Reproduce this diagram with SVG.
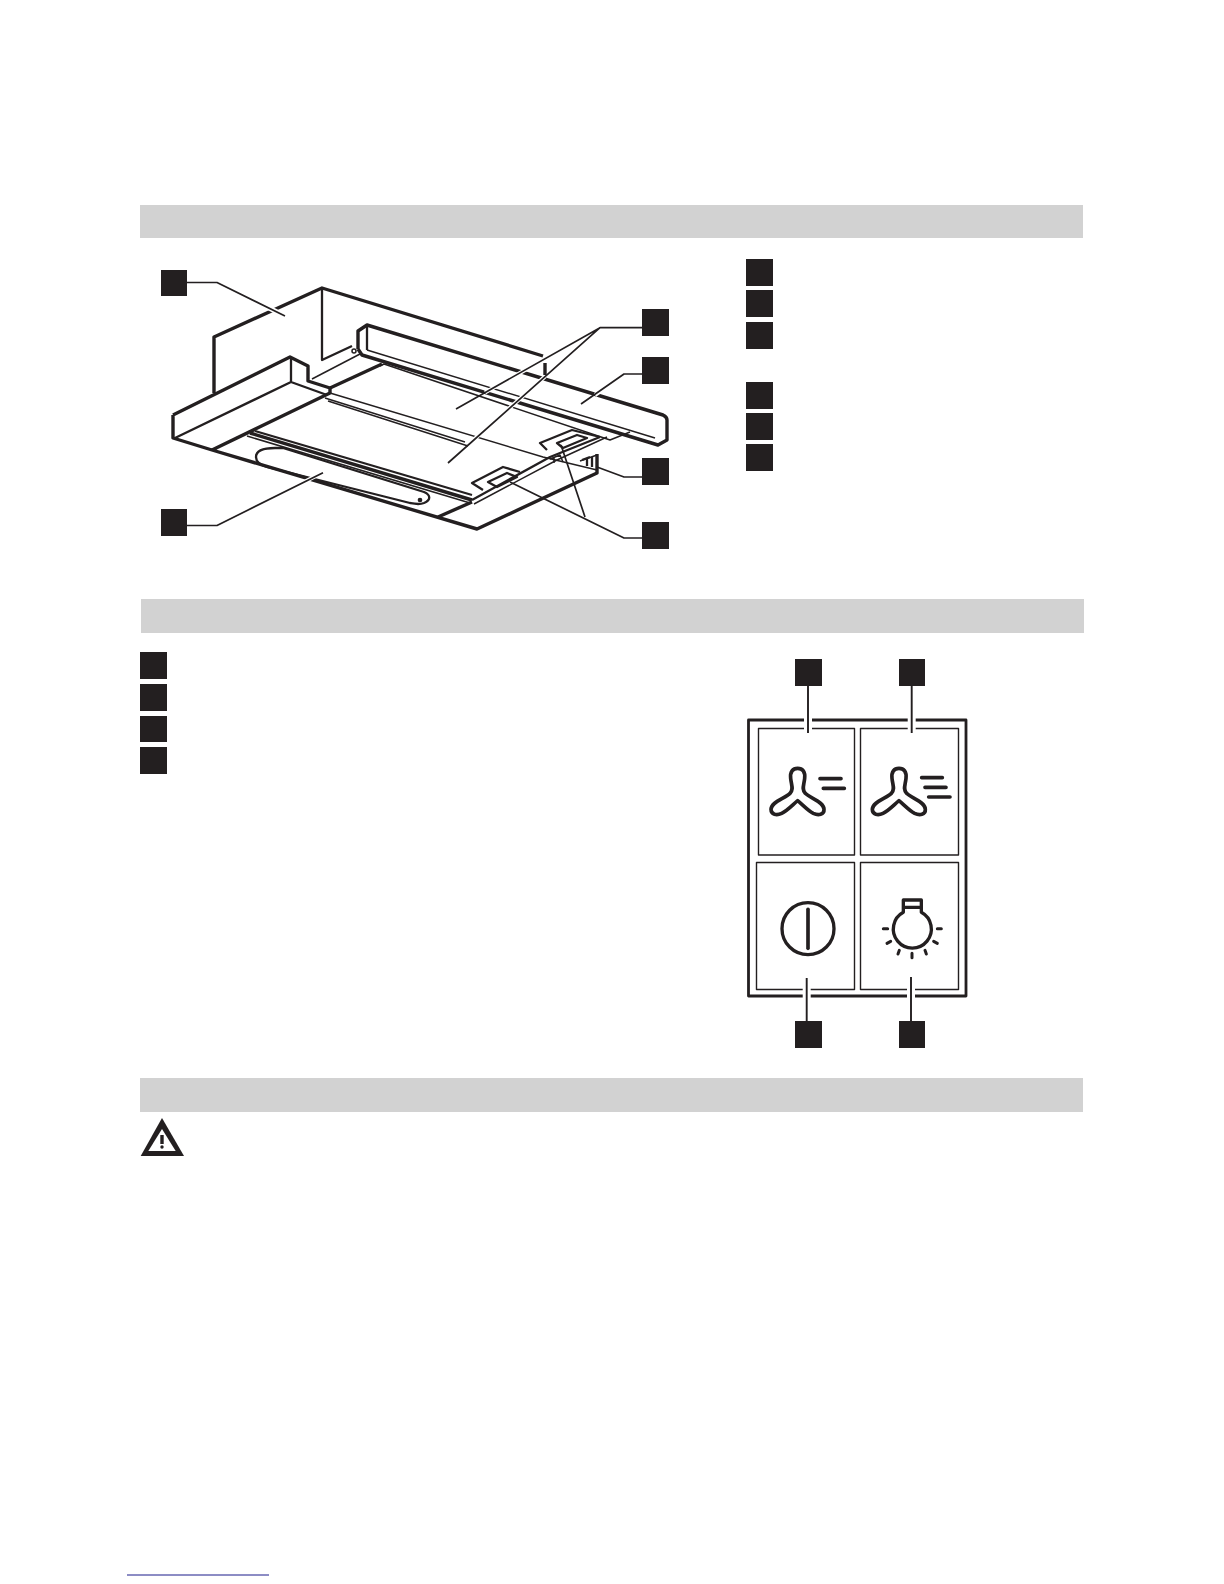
<svg xmlns="http://www.w3.org/2000/svg" xmlns:xlink="http://www.w3.org/1999/xlink" width="1224" height="1584" viewBox="0 0 1224 1584">
<style>
.bar{fill:#d2d2d2}
.sq{fill:#231f20}
path,line,circle,rect.o{fill:none;stroke:#231f20;stroke-linejoin:round}
.k{stroke-width:3.4}
.m{stroke-width:2.3}
.t{stroke-width:1.5}
.halo{stroke:#fff;stroke-width:4;stroke-linecap:butt}
.lead{stroke-width:1.7}
.panel{stroke-width:1.4}
.ic{stroke-width:11;stroke-linecap:round}
</style>
<defs>
<path id="fan" class="ic" d="M203,355C188,355 180,365 182,385C184,405 192,418 180,430C165,445 123,455 123,478C123,494 140,497 155,490C172,482 190,462 203,452C216,462 234,482 250,490C265,497 283,494 282,478C282,455 240,445 226,430C214,418 222,405 224,385C226,365 218,355 203,355Z"/>
</defs>
<rect width="1224" height="1584" fill="#fff"/>
<g id="headers">
<rect class="bar" x="140" y="205" width="943" height="33"/>
<rect class="bar" x="141" y="599" width="943" height="34"/>
<rect class="bar" x="140" y="1078" width="943" height="34"/>
</g>
<g id="hood">
<path class="k" d="M214,393V337L322,288L543,356M358,349V331L367,325L663,415Q667,417 667,420V440L658,445L362,355L358,349"/>
<path class="k" d="M545,363V375" />
<path class="m" d="M322,288V360L352,346"/>
<circle class="t" cx="354" cy="351" r="2"/>
<path class="m" d="M367,325V350"/>
<path class="t" d="M367,350L655,438"/>
<path class="t" d="M380,366L384,364L610,440L630,432"/>
<path class="t" d="M312,379L360,354"/>
<path class="k" d="M330,388L382,364"/>
<path class="k" d="M173,415L290,357L308,366V381L330,388V393L212,450M173,415V438L212,450L477,529L597,473V467"/>
<path class="m" d="M175,438L291,382L327,395M291,357V382"/>
<path class="t" d="M330,393L543,457L597,470M325,398L465,442M328,401L468,446"/>
<path class="k" d="M250,433L472,500"/>
<path class="m" d="M255,431L472,495"/>
<path class="t" d="M247,436L470,503"/>
<path class="k" d="M438,517L472,502"/>
<path class="m" d="M472,500L550,457L600,437"/>
<path class="t" d="M474,504L557,460L607,437"/>
<path class="m" d="M256,457C256,450 265,448 275,448H283L424,492C431,495 431,500 424,503C419,505 415,504 410,503L267,467C260,465 256,461 256,457Z"/>
<circle class="t" cx="420" cy="500" r="1.600" style="fill:#231f20"/>
<path class="m" d="M483,490L472,483L503,467L520,472M547,450L540,443L572,430L600,437"/>
<path class="m" d="M488,482L507,473L517,477L497,487Z M557,443L577,435L587,438L563,448Z"/>
<path class="t" d="M550,459L560,455L563,462M554,457V463M580,461L597,455"/>
<path class="m" d="M582,460L590,457M587,459V466M592,457V467"/>
<path class="k" d="M597,454V467"/>
</g>
<g id="connectors">
<path class="halo" d="M263,305L285,316" style="stroke-width:5"/>
<path class="lead" d="M187,282.500H217L285,316"/>
<path class="halo" d="M303,482.500L317,475.500"/>
<path class="lead" d="M187,525.500H217L323,472.700"/>
<path class="halo" d="M535,364.500L485,392.600M545,376.600L470,443"/>
<path class="lead" d="M642,327.700H600L456,409M600,327.700L448,463"/>
<path class="halo" d="M612,383L595,395"/>
<path class="lead" d="M642,374H624L581,404"/>
<path class="lead" d="M642,477H624L597,467"/>
<path class="lead" d="M642,538H624L510,482M585,517L561,445"/>
</g>
<g id="labels-diagram">
<rect class="sq" x="161" y="270" width="26" height="26"/>
<rect class="sq" x="161" y="509" width="26" height="27"/>
<rect class="sq" x="642" y="309" width="27" height="27"/>
<rect class="sq" x="642" y="357" width="27" height="27"/>
<rect class="sq" x="642" y="458" width="27" height="27"/>
<rect class="sq" x="642" y="522" width="27" height="27"/>
</g>
<g id="legend-1">
<rect class="sq" x="746" y="259" width="27" height="27"/>
<rect class="sq" x="746" y="290" width="27" height="27"/>
<rect class="sq" x="746" y="322" width="27" height="27"/>
<rect class="sq" x="746" y="382" width="27" height="27"/>
<rect class="sq" x="746" y="413" width="27" height="27"/>
<rect class="sq" x="746" y="444" width="27" height="27"/>
</g>
<g id="legend-2">
<rect class="sq" x="140" y="652" width="27" height="27"/>
<rect class="sq" x="140" y="684" width="27" height="27"/>
<rect class="sq" x="140" y="716" width="27" height="26"/>
<rect class="sq" x="140" y="747" width="27" height="27"/>
</g>
<g id="control-panel">
<rect class="o" x="748.500" y="720" width="217.500" height="276" style="stroke-width:2.800"/>
<rect class="o panel" x="758.500" y="728.500" width="96" height="126.500"/>
<rect class="o panel" x="860.500" y="728.500" width="98" height="126.500"/>
<rect class="o panel" x="756.500" y="862.500" width="98" height="127"/>
<rect class="o panel" x="860.500" y="862.500" width="98" height="127"/>
<g transform="translate(730 650) scale(.33333)">
<use xlink:href="#fan" href="#fan"/>
<use xlink:href="#fan" href="#fan" x="304"/>
<path class="ic" d="M270,386H333M280,415H343M575,383H637M585,412H648M596,441H660"/>
<circle cx="234" cy="836" r="78" style="stroke-width:10"/>
<path class="ic" d="M234,778V895"/>
<path style="stroke-width:10" d="M520,787V750H574V787A57,57 0 1 1 520,787ZM520,772H574"/>
<path class="ic" style="stroke-width:9" d="M460,836H473M471,880L482,874M504,912L508,901M546,923V910M589,912L585,901M622,880L611,874M634,836H622"/>
</g>
<path class="halo" d="M808,716V733M911.700,716V733M806.700,978V1000M911,977V1000" style="stroke-width:8"/>
<path style="stroke-width:1.900" d="M808,686V733M911.700,686V733M806.700,978V1021M911,977V1021"/>
<rect class="sq" x="795" y="659" width="27" height="27"/>
<rect class="sq" x="899" y="659" width="26" height="27"/>
<rect class="sq" x="795" y="1021" width="27" height="27"/>
<rect class="sq" x="899" y="1021" width="26" height="27"/>
</g>
<g id="warning">
<path d="M162,1118L140.700,1156H184Z" style="fill:#231f20;stroke:none"/>
<path d="M162,1129L148.300,1151H175.700Z" style="fill:#fff;stroke:none"/>
<path d="M162,1135V1144" style="stroke-width:3.400"/>
<circle cx="162" cy="1147" r="1.700" style="fill:#231f20;stroke:none"/>
</g>
<line id="link-rule" x1="127" y1="1575" x2="269" y2="1575" style="stroke:#1a1a8a;stroke-width:1"/>
</svg>
